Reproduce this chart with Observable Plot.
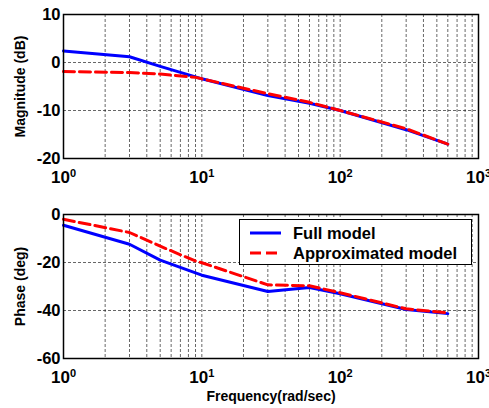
<!DOCTYPE html>
<html><head><meta charset="utf-8">
<script src="https://cdn.jsdelivr.net/npm/d3@7"></script>
<script src="https://cdn.jsdelivr.net/npm/@observablehq/plot@0.6"></script>
<style>
body{margin:0;background:#fff;}
#wrap{position:relative;width:489px;height:408px;font-family:"Liberation Sans",Arial,sans-serif;font-weight:bold;}
.panel{position:absolute;left:0;}
#legend{position:absolute;left:239px;top:219px;width:231px;height:44px;border:1.5px solid #000;background:#fff;}
#legend .row{position:absolute;left:0;height:20px;display:flex;align-items:center;font-size:16.5px;}
#legend svg{margin-left:10px;margin-right:12px;}
</style></head><body><div id="wrap"></div>
<script>
// frequencies (rad/sec)
const freq = [1, 3, 5, 9, 10, 30, 60, 100, 300, 600];
// magnitude (dB)
const magFull   = [2.4, 1.2, -0.8, -3.0, -3.4, -6.9, -8.5, -10.0, -14.0, -17.0];
const magApprox = [-1.9, -2.1, -2.4, -3.1, -3.4, -6.5, -8.3, -10.0, -13.8, -17.0];
// phase (deg)
const phaseFull   = [-4.5, -12.4, -19.0, -24.3, -25.3, -32.1, -30.4, -33.0, -39.6, -41.3];
const phaseApprox = [-2.0, -7.5, -13.2, -19.4, -20.1, -29.3, -29.7, -32.6, -39.3, -41.0];

const seriesNames = ["Full model", "Approximated model"];
const seriesColors = ["#0000ff", "#ff0000"];
const seriesDash = [null, "11,5"];

const xTicks = [1, 10, 100, 1000];
const xTickExp = ["0", "1", "2", "3"];
const xGrid = [2,3,4,5,6,7,8,9,10,20,30,40,50,60,70,80,90,100,200,300,400,500,600,700,800,900];
const magTicks = [-20, -10, 0, 10];
const phaseTicks = [-60, -40, -20, 0];

const wrap = document.getElementById("wrap");

function panel({top, height, mb, ticks, label, values, xLabel}) {
  const rows = [];
  values.forEach((vals, s) => freq.forEach((f, i) => rows.push({f, v: vals[i], s})));
  const gridStyle = {stroke: "#000", strokeOpacity: 1, strokeWidth: 0.6, strokeDasharray: "3,2"};
  const marks = [
    Plot.gridX(xGrid, gridStyle),
    Plot.gridY(ticks.slice(1, -1), gridStyle),
  ];
  values.forEach((vals, s) => {
    marks.push(Plot.line(rows.filter(d => d.s === s), {x: "f", y: "v", stroke: seriesColors[s], strokeWidth: 3, strokeDasharray: seriesDash[s], strokeLinejoin: "round"}));
  });
  marks.push(
    Plot.frame({stroke: "#000", strokeWidth: 1.5}),
    Plot.axisY(ticks, {tickSize: 0, tickPadding: 3, fontSize: 16.5, fontWeight: "bold", label: null, tickFormat: d => String(d)}),
    Plot.axisX(xTicks, {tickSize: 0, tickPadding: 12, fontSize: 17, fontWeight: "bold", label: null, tickFormat: () => "10"}),
    Plot.text([label], {text: d => d, frameAnchor: "left", textAnchor: "middle", rotate: -90, dx: -43, fontSize: 14, fontWeight: "bold"})
  );
  if (xLabel) marks.push(Plot.text([xLabel], {text: d => d, frameAnchor: "bottom", textAnchor: "middle", dy: 42, fontSize: 14, fontWeight: "bold"}));
  const p = Plot.plot({
    width: 489, height, marginTop: 14, marginBottom: mb, marginLeft: 63, marginRight: 11,
    x: {type: "log", domain: [1, 1000]},
    y: {domain: [ticks[0], ticks[ticks.length - 1]]},
    style: {fontFamily: '"Liberation Sans", Arial, sans-serif', fontWeight: "bold", background: "transparent", color: "#000", overflow: "visible"},
    marks
  });
  p.classList.add("panel");
  p.style.top = top + "px";
  // superscript exponents on x tick labels
  d3.select(p).selectAll('g[aria-label="x-axis tick label"] text').each(function(d, i) {
    const t = d3.select(this);
    t.text("10");
    t.append("tspan").attr("dy", "-0.5em").attr("font-size", "11px").text(xTickExp[i]);
  });
  wrap.appendChild(p);
}

panel({top: 0, height: 200, mb: 42, ticks: magTicks, label: "Magnitude (dB)", values: [magFull, magApprox]});
panel({top: 200, height: 208, mb: 50, ticks: phaseTicks, label: "Phase (deg)", values: [phaseFull, phaseApprox], xLabel: "Frequency(rad/sec)"});

// legend
const leg = document.createElement("div");
leg.id = "legend";
seriesNames.forEach((name, s) => {
  const row = document.createElement("div");
  row.className = "row";
  row.style.top = (s === 0 ? 3 : 23) + "px";
  row.innerHTML = `<svg width="31" height="6"><line x1="0" x2="31" y1="3" y2="3" stroke="${seriesColors[s]}" stroke-width="3" ${seriesDash[s] ? `stroke-dasharray="${seriesDash[s]}"` : ""}/></svg><span>${name}</span>`;
  leg.appendChild(row);
});
wrap.appendChild(leg);
</script></body></html>
